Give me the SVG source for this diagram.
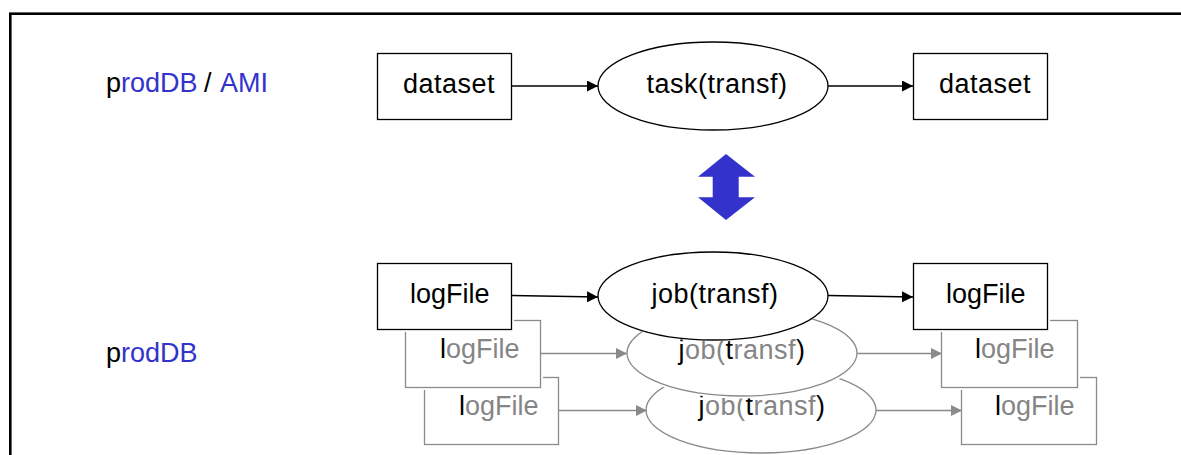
<svg xmlns="http://www.w3.org/2000/svg" width="1181" height="455" viewBox="0 0 1181 455">
<style>
text{font-family:"Liberation Sans",Arial,sans-serif;font-size:27px;fill:#000}
.t{text-anchor:middle;letter-spacing:0.5px}
.blue{fill:#3333cc}
.g{fill:#858585}
.k{fill:#000}
.halo{fill:#fff;stroke:#fff;stroke-width:5}
.halo2{fill:#fff;stroke:#fff;stroke-width:2}
.front{fill:#fff;stroke:#000;stroke-width:1.3}
.back{fill:#fff;stroke:#8a8a8a;stroke-width:1.3}
.cb{stroke:#000;stroke-width:1.3;fill:none}
.cg{stroke:#8a8a8a;stroke-width:1.3;fill:none}
</style>
<defs>
<marker id="ak" markerUnits="userSpaceOnUse" markerWidth="12" markerHeight="12" refX="11" refY="5.5" orient="auto"><path d="M0,0 L11,5.5 L0,11 Z" fill="#000"/></marker>
<marker id="ag" markerUnits="userSpaceOnUse" markerWidth="12" markerHeight="12" refX="11" refY="5.5" orient="auto"><path d="M0,0 L11,5.5 L0,11 Z" fill="#8a8a8a"/></marker>
</defs>
<rect x="0" y="0" width="1181" height="455" fill="#fff"/>
<rect id="frame" x="10.3" y="13.7" width="1200" height="500" fill="none" stroke="#000" stroke-width="2.6"/>

<g id="label-top">
<text x="106" y="92">p<tspan class="blue">rodDB</tspan></text>
<text x="204" y="92">/</text>
<text x="220" y="92" class="blue">AMI</text>
</g>
<g id="label-bottom">
<text x="106" y="362">p<tspan class="blue">rodDB</tspan></text>
</g>

<g id="dataset-in">
<rect class="front" x="377.5" y="53.5" width="134" height="66"/>
<text class="t" x="449" y="93">dataset</text>
</g>
<g id="task">
<ellipse class="front" cx="713" cy="86" rx="115" ry="44"/>
<text class="t" x="717" y="93">task(transf)</text>
</g>
<g id="dataset-out">
<rect class="front" x="913.5" y="53.5" width="134" height="66"/>
<text class="t" x="985" y="93">dataset</text>
</g>

<g id="mapping-arrow">
<path d="M726,154 L755,176.7 L738.7,176.7 L738.7,197.3 L755,197.3 L726,220 L698,197.3 L712.7,197.3 L712.7,176.7 L698,176.7 Z" fill="#3333cc"/>
</g>

<g id="logfile-in-3">
<rect class="back" x="424.5" y="377.5" width="134" height="67"/>
<text x="459" y="415"><tspan class="k">l</tspan><tspan class="g">ogFile</tspan></text>
</g>
<g id="logfile-in-2">
<rect class="halo" x="405.5" y="320.5" width="135" height="67"/>
<rect class="back" x="405.5" y="320.5" width="135" height="67"/>
<text x="440" y="358"><tspan class="k">l</tspan><tspan class="g">ogFile</tspan></text>
</g>
<g id="logfile-in-1">
<rect class="halo" x="377.5" y="263.5" width="134" height="66"/>
<rect class="front" x="377.5" y="263.5" width="134" height="66"/>
<text x="410" y="303">logFile</text>
</g>

<g id="job-3">
<ellipse class="back" cx="761" cy="410" rx="115" ry="43"/>
<text class="t" x="762" y="415"><tspan class="k">j</tspan><tspan class="g">ob(</tspan><tspan class="k">t</tspan><tspan class="g">ransf</tspan><tspan class="k">)</tspan></text>
</g>
<g id="job-2">
<ellipse class="halo" cx="742" cy="353" rx="115" ry="43"/>
<ellipse class="back" cx="742" cy="353" rx="115" ry="43"/>
<text class="t" x="742" y="359"><tspan class="k">j</tspan><tspan class="g">ob(</tspan><tspan class="k">t</tspan><tspan class="g">ransf</tspan><tspan class="k">)</tspan></text>
</g>
<g id="job-1">
<ellipse class="halo2" cx="713" cy="296" rx="115" ry="44"/>
<ellipse class="front" cx="713" cy="296" rx="115" ry="44"/>
<text class="t" x="715" y="303">job(transf)</text>
</g>

<g id="logfile-out-3">
<rect class="back" x="961.5" y="377.5" width="135" height="67"/>
<text x="995" y="415"><tspan class="k">l</tspan><tspan class="g">ogFile</tspan></text>
</g>
<g id="logfile-out-2">
<rect class="halo" x="941.5" y="320.5" width="136" height="67"/>
<rect class="back" x="941.5" y="320.5" width="136" height="67"/>
<text x="975" y="358"><tspan class="k">l</tspan><tspan class="g">ogFile</tspan></text>
</g>
<g id="logfile-out-1">
<rect class="halo" x="913.5" y="263.5" width="134" height="66"/>
<rect class="front" x="913.5" y="263.5" width="134" height="66"/>
<text x="946" y="303">logFile</text>
</g>

<g id="connectors">
<path class="cb" d="M512,86 L598,86" marker-end="url(#ak)"/>
<path class="cb" d="M828,86 L913,86" marker-end="url(#ak)"/>
<path class="cb" d="M512,295.5 L598,297" marker-end="url(#ak)"/>
<path class="cb" d="M828,295.5 L913,297" marker-end="url(#ak)"/>
<path class="cg" d="M541,353.5 L627,353.5" marker-end="url(#ag)"/>
<path class="cg" d="M857,353.5 L942,353.5" marker-end="url(#ag)"/>
<path class="cg" d="M559,410.5 L647,410.5" marker-end="url(#ag)"/>
<path class="cg" d="M876,410.5 L962,410.5" marker-end="url(#ag)"/>
</g>
</svg>
